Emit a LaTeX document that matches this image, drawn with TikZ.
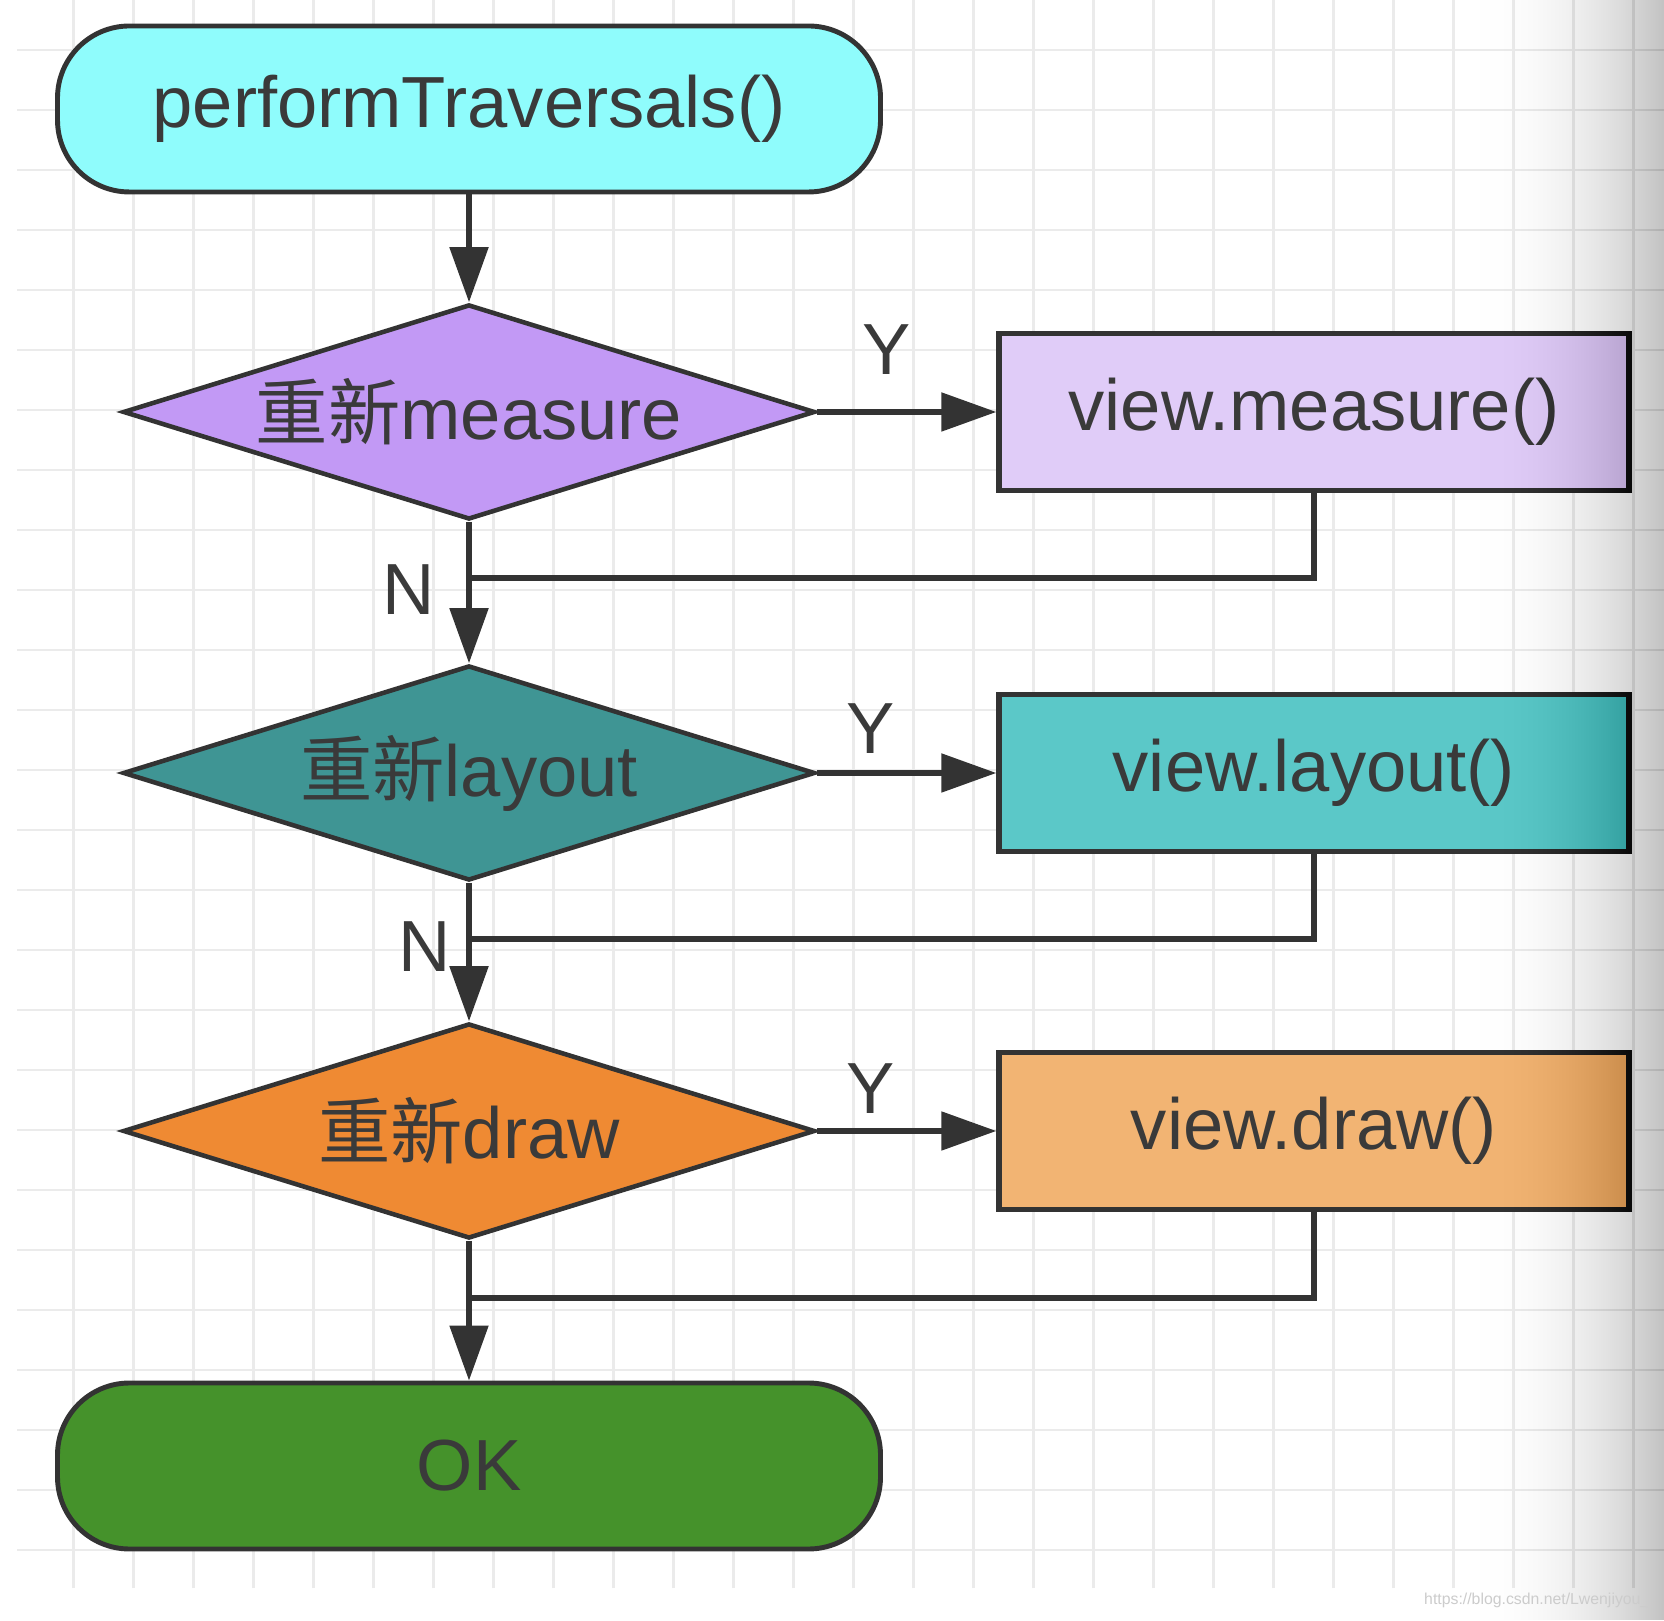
\documentclass[tikz,border=0pt]{standalone}
\usepackage{fontspec}
\setmainfont{Liberation Sans}
\newfontfamily\cjk{Noto Sans CJK SC}
\usetikzlibrary{arrows.meta,positioning,shapes.geometric}

\definecolor{edgegray}{HTML}{333333}
\definecolor{textgray}{HTML}{3A3A3A}
\definecolor{gridgray}{HTML}{EBEBEB}
\definecolor{startcyan}{HTML}{8FFCFC}
\definecolor{measurepurple}{HTML}{C299F5}
\definecolor{measurebox}{HTML}{E0CCF8}
\definecolor{layoutteal}{HTML}{3F9594}
\definecolor{layoutbox}{HTML}{5BC8C8}
\definecolor{draworange}{HTML}{EF8A33}
\definecolor{drawbox}{HTML}{F2B473}
\definecolor{okgreen}{HTML}{45922B}

\tikzset{
  every node/.style={font=\fontsize{20.6}{24}\selectfont, text=textgray},
  terminal/.style={draw=edgegray, line width=1.4pt, rounded corners=0.72cm, minimum width=8.23cm, minimum height=1.66cm},
  decision/.style={diamond, draw=edgegray, line width=1.3pt, shape aspect=3.2, minimum width=6.92cm, minimum height=2.15cm, inner sep=0pt},
  process/.style={draw=edgegray, line width=1.5pt, minimum width=6.3cm, minimum height=1.57cm},
  flow/.style={draw=edgegray, line width=1.5pt},
  flowarrow/.style={flow, -{Triangle[length=5.5mm,width=3.8mm]}},
  yn/.style={inner sep=0pt},
  gridline/.style={draw=gridgray, line width=0.8pt}
}

\begin{document}
\begin{tikzpicture}
	%%%%% START %%%%%
	
	\useasboundingbox[fill=white] (0,0) rectangle (16.64,16.2);
	
	% grid paper
	\foreach \k in {0,...,25}
		\draw[gridline] (0.17,{15.7-0.6*\k}) -- (16.64,{15.7-0.6*\k});
	\foreach \k in {0,...,26}
		\draw[gridline] ({0.735+0.6*\k},0.32) -- ({0.735+0.6*\k},16.2);
	
	% main column
	\node[terminal, fill=startcyan] (start) at (4.69,15.11) {performTraversals()};
	\node[decision, fill=measurepurple] (dmeasure) at (4.69,12.08) {{\cjk 重新}measure};
	\node[decision, fill=layoutteal] (dlayout) at (4.69,8.47) {{\cjk 重新}layout};
	\node[decision, fill=draworange] (ddraw) at (4.69,4.89) {{\cjk 重新}draw};
	\node[terminal, fill=okgreen] (ok) at (4.69,1.54) {OK};
	
	% view calls
	\node[process, fill=measurebox, right=1.79cm of dmeasure] (vmeasure) {view.measure()};
	\node[process, fill=layoutbox, right=1.79cm of dlayout] (vlayout) {view.layout()};
	\node[process, fill=drawbox, right=1.79cm of ddraw] (vdraw) {view.draw()};
	
	\coordinate (jmeasure) at (4.69,10.42);
	\coordinate (jlayout) at (4.69,6.81);
	\coordinate (jdraw) at (4.69,3.22);
	
	\draw[flowarrow] (start) -- (dmeasure);
	\draw[flowarrow] (dmeasure) -- node[yn, above=0.35cm, pos=0.39] (ymeasure) {Y} (vmeasure);
	\draw[flowarrow] (dmeasure) -- node[yn, left=0.32cm, pos=0.48] (nmeasure) {N} (dlayout);
	\draw[flow] (vmeasure) |- (jmeasure);
	
	\draw[flowarrow] (dlayout) -- node[yn, above=0.17cm, pos=0.30] (ylayout) {Y} (vlayout);
	\draw[flowarrow] (dlayout) -- node[yn, left=0.16cm, pos=0.46] (nlayout) {N} (ddraw);
	\draw[flow] (vlayout) |- (jlayout);
	
	\draw[flowarrow] (ddraw) -- node[yn, above=0.15cm, pos=0.30] (ydraw) {Y} (vdraw);
	\draw[flowarrow] (ddraw) -- (ok);
	\draw[flow] (vdraw) |- (jdraw);
	
	% screenshot edge: thin layers pile up towards the right
	\foreach \i [evaluate=\i as \x using {14.8+1.84*sqrt(\i/60)}] in {0,...,59}
		\fill[black, fill opacity=0.0033] (\x,0) rectangle (16.64,16.2);
	\node[font=\fontsize{4.5}{5}\selectfont, text=black!20, anchor=east, inner sep=0pt] (mark) at (16.5,0.2) {https://blog.csdn.net/Lwenjiyou\_};
	
	%%%%% END %%%%%
\end{tikzpicture}
\end{document}
